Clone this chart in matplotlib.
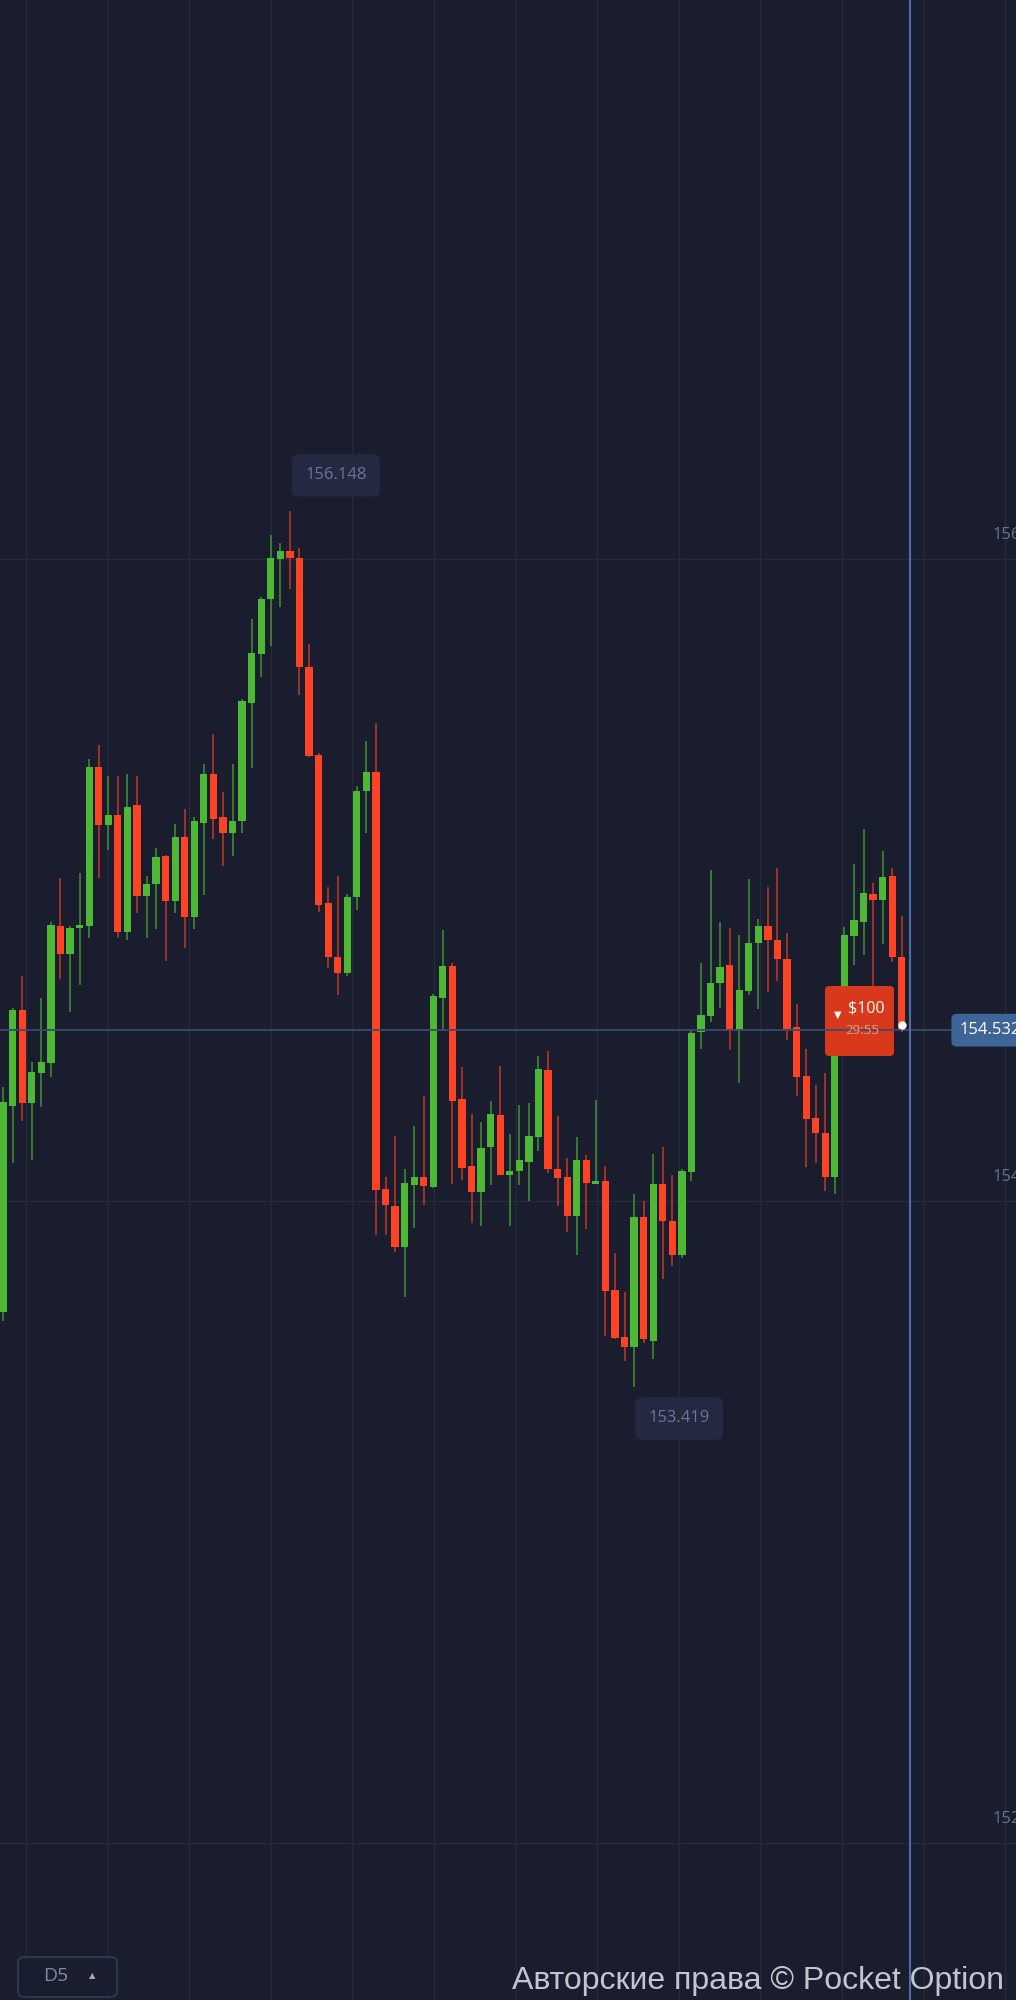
import matplotlib
matplotlib.use('agg')
import matplotlib.pyplot as plt
import matplotlib.patches as mpatches
import numpy as np

# OHLC, one candle per slot
opens = [153.654, 154.296, 154.595, 154.305, 154.399, 154.430, 154.857, 154.769, 154.850, 154.857,
         155.352, 155.171, 155.202, 154.838, 155.234, 154.950, 154.988, 155.075, 154.935, 155.134,
         154.883, 155.178, 155.330, 155.195, 155.145, 155.184, 155.551, 155.704, 155.875, 156.000,
         156.025, 156.003, 155.662, 155.389, 154.928, 154.760, 154.710, 154.947, 155.277, 155.336,
         154.036, 153.984, 153.857, 154.050, 154.075, 154.044, 154.632, 154.732, 154.319, 154.109,
         154.027, 154.168, 154.268, 154.082, 154.093, 154.121, 154.199, 154.408, 154.101, 154.075,
         153.954, 154.128, 154.054, 154.062, 153.723, 153.576, 153.545, 153.949, 153.564, 154.054,
         153.938, 153.832, 154.090, 154.526, 154.576, 154.679, 154.735, 154.533, 154.654, 154.804,
         154.857, 154.813, 154.754, 154.542, 154.389, 154.259, 154.213, 154.075, 154.502, 154.826,
         154.870, 154.956, 154.936, 155.012, 154.761]
highs = [154.355, 154.601, 154.701, 154.433, 154.632, 154.869, 155.006, 154.857, 155.022, 155.378,
         155.421, 155.324, 155.324, 155.330, 155.324, 155.012, 155.100, 155.078, 155.174, 155.222,
         155.195, 155.361, 155.455, 155.273, 155.361, 155.564, 155.813, 155.882, 156.075, 156.048,
         156.148, 156.034, 155.735, 155.396, 154.978, 155.012, 154.956, 155.293, 155.434, 155.489,
         154.075, 154.202, 154.101, 154.234, 154.327, 154.645, 154.844, 154.741, 154.416, 154.271,
         154.246, 154.312, 154.421, 154.210, 154.299, 154.305, 154.453, 154.467, 154.266, 154.134,
         154.199, 154.143, 154.316, 154.110, 153.838, 153.715, 154.023, 154.000, 154.146, 154.168,
         154.082, 154.100, 154.530, 154.741, 155.031, 154.869, 154.850, 154.829, 155.003, 154.879,
         154.979, 155.037, 154.836, 154.614, 154.474, 154.361, 154.400, 154.505, 154.854, 155.050,
         155.159, 154.992, 155.091, 155.037, 154.888]
lows = [153.626, 154.118, 154.249, 154.128, 154.293, 154.386, 154.692, 154.589, 154.673, 154.819,
        155.006, 155.093, 154.819, 154.813, 154.897, 154.819, 154.847, 154.748, 154.897, 154.788,
        154.847, 154.953, 155.128, 155.044, 155.075, 155.145, 155.350, 155.632, 155.729, 155.850,
        155.907, 155.576, 155.383, 154.900, 154.727, 154.642, 154.701, 154.907, 155.145, 153.894,
        153.894, 153.841, 153.702, 153.916, 153.988, 154.040, 154.533, 154.054, 154.065, 153.931,
        153.922, 154.050, 154.080, 153.923, 154.050, 154.001, 154.156, 154.087, 153.985, 153.904,
        153.832, 153.913, 154.053, 153.579, 153.570, 153.502, 153.419, 153.559, 153.508, 153.757,
        153.798, 153.821, 154.061, 154.474, 154.556, 154.601, 154.470, 154.368, 154.642, 154.598,
        154.652, 154.686, 154.502, 154.327, 154.107, 154.119, 154.032, 154.022, 154.486, 154.735,
        154.766, 154.657, 154.801, 154.745, 154.526]
closes = [154.308, 154.595, 154.305, 154.402, 154.433, 154.860, 154.769, 154.850, 154.860, 155.352,
          155.171, 155.202, 154.838, 155.227, 154.950, 154.988, 155.072, 154.935, 155.134, 154.883,
          155.184, 155.330, 155.190, 155.145, 155.184, 155.558, 155.707, 155.875, 156.003, 156.025,
          156.003, 155.662, 155.387, 154.922, 154.760, 154.710, 154.947, 155.277, 155.336, 154.034,
          153.988, 153.857, 154.055, 154.075, 154.047, 154.639, 154.732, 154.312, 154.104, 154.027,
          154.165, 154.271, 154.082, 154.093, 154.128, 154.202, 154.411, 154.101, 154.072, 153.954,
          154.128, 154.056, 154.062, 153.720, 153.573, 153.545, 153.949, 153.570, 154.054, 153.938,
          153.832, 154.093, 154.523, 154.579, 154.679, 154.729, 154.533, 154.657, 154.805, 154.857,
          154.813, 154.754, 154.536, 154.387, 154.255, 154.212, 154.075, 154.502, 154.829, 154.875,
          154.959, 154.936, 155.010, 154.760, 154.532]

price_levels = [156.0, 154.0, 152.0]
level_labels = ['156.000', '154.000', '152.000']
trade_amount = '$100'
trade_timer = '29:55'
period_label = 'D5'
watermark = 'Авторские права © Pocket Option'

W, H = 1016, 2000
BG = '#1a1d2e'
GREEN = '#4cb833'
RED = '#fd4323'
GRID = '#252a3d'


def fx(x):
    return x / W


def fy(y):
    return 1 - y / H


o = np.array(opens)
h = np.array(highs)
l = np.array(lows)
c = np.array(closes)
idx = np.arange(len(o))
up = c >= o
colors = np.where(up, GREEN, RED)

fig = plt.figure(figsize=(W / 100, H / 100), dpi=100)
fig.patch.set_facecolor(BG)
ax = fig.add_axes([0, 0, 1, 1])
ax.set_facecolor(BG)
ax.set_xlim(-0.324, 105.95)
ax.set_ylim(151.511, 157.741)
ax.set_xticks([])
ax.set_yticks([])
for s in ax.spines.values():
    s.set_visible(False)

# grid
for k in range(13):
    ax.axvline(2.4 + 8.536 * k, color=GRID, lw=1.0, zorder=0)
for p in price_levels:
    ax.axhline(p, color=GRID, lw=1.0, zorder=0)

# axis labels on the right, cut by the figure edge like in the app
for p, lab in zip(price_levels, level_labels):
    ax.annotate(lab, xy=(1, p), xycoords=('axes fraction', 'data'),
                xytext=(-23, 24), textcoords='offset pixels',
                color='#6b7190', fontsize=12, family='Open Sans',
                ha='left', va='center', annotation_clip=False)

# candles
ax.vlines(idx, l, h, colors=colors, lw=1.1, alpha=0.75, zorder=2)
body = np.maximum(np.abs(c - o), 0.008)
ax.bar(idx, body, bottom=np.minimum(o, c), width=0.76, color=colors,
       linewidth=0, zorder=3)

# current price / time lines
last = idx[-1]
ax.axhline(c[-1], color='#3c4a6d', lw=1.3, zorder=6)
ax.axvline(last + 0.87, color='#4a6ea6', lw=1.5, zorder=6)
ax.plot(last, c[-1] + 0.015, 'o', color='white', ms=5, zorder=7)

# max / min markers
imax = int(np.argmax(h))
imin = int(np.argmin(l))
lab_kw = dict(textcoords='offset pixels', ha='center', va='center',
              color='#6e7494', fontsize=12, family='Open Sans', zorder=8,
              bbox=dict(boxstyle='round,pad=0.8,rounding_size=0.4',
                        fc='#242840', ec='none'))
ax.annotate(f'{h[imax]:.3f}', xy=(imax, h[imax]), xytext=(46, 36), **lab_kw)
ax.annotate(f'{l[imin]:.3f}', xy=(imin, l[imin]), xytext=(45, -31), **lab_kw)

# current price tag
ax.annotate(f'{c[-1]:.3f}', xy=(last, c[-1]), xytext=(58, 0),
            textcoords='offset pixels', ha='left', va='center',
            color='white', fontsize=12, family='Open Sans', zorder=9,
            bbox=dict(boxstyle='round,pad=0.5,rounding_size=0.3',
                      fc='#3e6598', ec='none'))

# trade marker
box = mpatches.FancyBboxPatch((fx(825), fy(1056)), 69 / W, 70 / H,
                              boxstyle='round,pad=0,rounding_size=0.004',
                              mutation_aspect=W / H,
                              transform=fig.transFigure, fc='#d7391a',
                              ec='none', zorder=5)
ax.add_patch(box)
ax.text(fx(866), fy(1009), trade_amount, transform=fig.transFigure,
        color='white', fontsize=11.5, family='Open Sans',
        ha='center', va='center', zorder=8)
ax.text(fx(862), fy(1030), trade_timer, transform=fig.transFigure,
        color='#eaa18e', fontsize=9.5, family='Open Sans',
        ha='center', va='center', zorder=8)
ax.text(fx(838), fy(1015), '▼', transform=fig.transFigure,
        color='white', fontsize=7, ha='center', va='center', zorder=8)

# period button
btn = mpatches.FancyBboxPatch((fx(18), fy(1997)), 99 / W, 40 / H,
                              boxstyle='round,pad=0,rounding_size=0.006',
                              mutation_aspect=W / H,
                              transform=fig.transFigure, fc=BG,
                              ec='#2f3a54', lw=1.3, zorder=5)
ax.add_patch(btn)
ax.text(fx(56), fy(1976), period_label, transform=fig.transFigure,
        color='#7f88a4', fontsize=14, family='Open Sans',
        ha='center', va='center', zorder=8)
ax.text(fx(92), fy(1976), '▲', transform=fig.transFigure,
        color='#a0a8c0', fontsize=6, ha='center', va='center', zorder=8)

# watermark
ax.text(fx(1004), fy(1981), watermark, transform=fig.transFigure,
        color='#c2c6ce', fontsize=23, family='Liberation Sans',
        ha='right', va='center', zorder=8)

fig.savefig('out.png', dpi=100, facecolor=BG)
